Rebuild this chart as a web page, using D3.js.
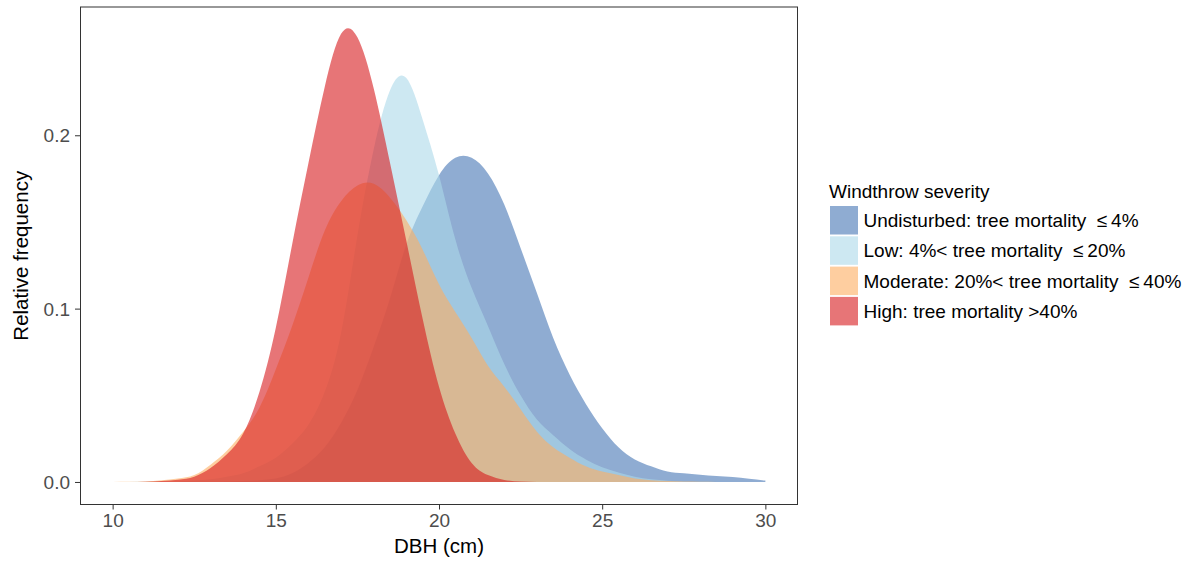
<!DOCTYPE html>
<html>
<head>
<meta charset="utf-8">
<script src="https://cdn.jsdelivr.net/npm/d3@7"></script>
<style>
  body { margin: 0; background: #fff; }
  svg { font-family: "Liberation Sans", Arial, Helvetica, sans-serif; }
</style>
</head>
<body>
<div id="chart"></div>
<script>
const dbh = [10, 10.5, 11, 11.5, 12, 12.5, 13, 13.5, 14, 14.5, 15, 15.5, 16, 16.5, 17, 17.5, 18, 18.5, 19, 19.5,
             20, 20.5, 21, 21.5, 22, 22.5, 23, 23.5, 24, 24.5, 25, 25.5, 26, 26.5, 27, 27.5, 28, 28.5, 29, 29.5, 30]

const undisturbed = [0, 0, 0, 0, 0, 0.0001, 0.0001, 0.0002, 0.0005, 0.001, 0.002, 0.005, 0.011, 0.020, 0.034, 0.053,
                     0.078, 0.106, 0.137, 0.159, 0.177, 0.187, 0.187, 0.178, 0.160, 0.135, 0.109, 0.083, 0.062, 0.045,
                     0.031, 0.020, 0.013, 0.009, 0.006, 0.005, 0.0042, 0.0035, 0.0028, 0.0018, 0.0008]

const low = [0, 0, 0.0001, 0.0002, 0.0004, 0.0008, 0.0015, 0.003, 0.005, 0.009, 0.014, 0.022, 0.033, 0.052, 0.086, 0.142,
             0.192, 0.226, 0.233, 0.209, 0.177, 0.140, 0.112, 0.090, 0.068, 0.050, 0.036, 0.027, 0.019, 0.013,
             0.0085, 0.0055, 0.003, 0.0015, 0.0007, 0.0003, 0.0001, 0, 0, 0, 0]

const moderate = [0, 0.0001, 0.0003, 0.001, 0.002, 0.004, 0.010, 0.018, 0.029, 0.043, 0.065, 0.090, 0.118, 0.145, 0.162, 0.171,
                  0.172, 0.164, 0.151, 0.134, 0.114, 0.098, 0.083, 0.067, 0.055, 0.042, 0.029, 0.020, 0.014, 0.009,
                  0.006, 0.004, 0.002, 0.001, 0.0005, 0.0002, 0.0001, 0, 0, 0, 0]

const high = [0, 0, 0.0001, 0.0005, 0.0013, 0.003, 0.008, 0.016, 0.028, 0.052, 0.089, 0.137, 0.184, 0.228, 0.2585, 0.2565,
              0.227, 0.184, 0.139, 0.094, 0.055, 0.028, 0.011, 0.004, 0.0012, 0.0003, 0, 0, 0, 0,
              0, 0, 0, 0, 0, 0, 0, 0, 0, 0, 0]

const severity_labels = [
    "Undisturbed: tree mortality\u00a0\u00a0\u2264\u20094%",
    "Low: 4%< tree mortality\u00a0\u00a0\u2264\u200920%",
    "Moderate: 20%< tree mortality\u00a0\u00a0\u2264\u200940%",
    "High: tree mortality\u00a0>40%"
]
const severity_colors = ["#4575B4", "#ABD9E9", "#FDAE61", "#D7191C"]
const x_ticks = [10, 15, 20, 25, 30]
const y_ticks = [0, 0.1, 0.2]

const series = [undisturbed, low, moderate, high]

const width = 1197,
      height = 561,
      fill_opacity = 0.6

const panel = { left: 80, right: 798, top: 7, bottom: 504.5 }

const svg = d3.select("#chart")
    .append("svg")
    .attr("width", width)
    .attr("height", height)

let x = d3.scaleLinear()
    .domain([9, 31])
    .range([panel.left, panel.right])

let y = d3.scaleLinear()
    .domain([-0.013, 0.274])
    .range([panel.bottom, panel.top])

const area = d3.area()
    .x((d, i) => x(dbh[i]))
    .y0(y(0))
    .y1(d => y(Math.max(0, d)))
    .curve(d3.curveNatural)

svg.append("g")
    .selectAll("path")
    .data(series)
    .enter()
    .append("path")
    .attr("fill", (d, i) => severity_colors[i])
    .attr("fill-opacity", fill_opacity)
    .attr("stroke", "none")
    .attr("d", d => area(d))

svg.append("rect")
    .attr("x", panel.left + 0.5)
    .attr("y", panel.top)
    .attr("width", panel.right - panel.left - 1)
    .attr("height", panel.bottom - panel.top)
    .attr("fill", "none")
    .attr("stroke", "#333")
    .attr("stroke-width", 1)

const x_axis = svg.append("g")
    .attr("transform", `translate(0, ${panel.bottom})`)
    .call(d3.axisBottom(x).tickValues(x_ticks).tickSize(5).tickPadding(4).tickFormat(d3.format("d")))

const y_axis = svg.append("g")
    .attr("transform", `translate(${panel.left}, 0)`)
    .call(d3.axisLeft(y).tickValues(y_ticks).tickSize(5).tickPadding(5).tickFormat(d3.format(".1f")))

for (const axis of [x_axis, y_axis]) {
    axis.select(".domain").remove()
    axis.selectAll(".tick line").attr("stroke", "#333")
    axis.selectAll(".tick text")
        .attr("fill", "#4D4D4D")
        .style("font-size", "19px")
        .style("font-family", "'Liberation Sans', Arial, sans-serif")
}
y_axis.selectAll(".tick text").attr("dy", "0.35em")

svg.append("text")
    .attr("x", (panel.left + panel.right) / 2)
    .attr("y", 553)
    .attr("text-anchor", "middle")
    .style("font-size", "20.5px")
    .text("DBH (cm)")

svg.append("text")
    .attr("transform", `translate(28, ${(panel.top + panel.bottom) / 2}) rotate(-90)`)
    .attr("text-anchor", "middle")
    .style("font-size", "20.5px")
    .text("Relative frequency")

// legend
const legend = svg.append("g").attr("transform", "translate(829, 0)")

legend.append("text")
    .attr("x", 0)
    .attr("y", 198)
    .style("font-size", "19px")
    .text("Windthrow severity")

const rows = legend.selectAll(".row")
    .data(severity_labels)
    .enter()
    .append("g")
    .attr("transform", (d, i) => `translate(0, ${205.5 + i * 30.3})`)

rows.append("rect")
    .attr("x", 1)
    .attr("y", 0.5)
    .attr("width", 28)
    .attr("height", 28.5)
    .attr("fill", (d, i) => severity_colors[i])
    .attr("fill-opacity", fill_opacity)

rows.append("text")
    .attr("x", 34.5)
    .attr("y", 21.5)
    .style("font-size", "19px")
    .text(d => d)
</script>
</body>
</html>
